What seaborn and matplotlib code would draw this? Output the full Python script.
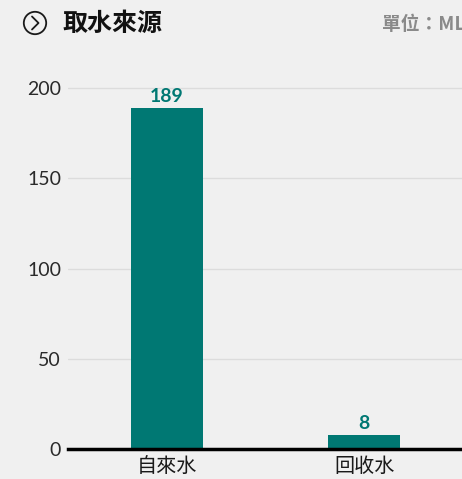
import matplotlib
matplotlib.use("Agg")
import matplotlib.pyplot as plt
from matplotlib.patches import Circle
from matplotlib.lines import Line2D
import seaborn as sns

categories = ["自來水", "回收水"]
values = [189, 8]
y_ticks = [0, 50, 100, 150, 200]

BG = "#F0F0F0"
TEAL = "#007873"
CJK = ["Noto Sans CJK TC", "DejaVu Sans"]
NUM = ["Lato", "DejaVu Sans"]

sns.set_style("white")
plt.rcParams["font.family"] = CJK

fig = plt.figure(figsize=(4.62, 4.79), dpi=100, facecolor=BG)
ax = fig.add_axes([68 / 462, 30 / 479, 1 - 68 / 462, (449 - 70.1) / 479])
ax.set_facecolor(BG)

sns.barplot(x=categories, y=values, color=TEAL, saturation=1, width=0.365,
            linewidth=0, edgecolor="none", ax=ax, zorder=3)

ax.set_xlim(-0.503, 1.497)
ax.set_ylim(0, 210)
ax.set_yticks(y_ticks)
ax.set_yticklabels([str(v) for v in y_ticks], family=NUM, fontweight="normal",
                   fontsize=14, color="#2a2a2a")
ax.set_xticks(range(len(categories)))
ax.set_xticklabels(categories, family=CJK, fontsize=14.5, color="#1a1a1a")
ax.tick_params(axis="y", length=0, pad=5, labelcolor="#2a2a2a")
ax.tick_params(axis="x", length=0, pad=5)
ax.set_xlabel("")
ax.set_ylabel("")

for v in y_ticks[1:]:
    ax.axhline(v, color="#DCDCDC", linewidth=1, zorder=1)

for s in ["top", "right", "left"]:
    ax.spines[s].set_visible(False)
ax.spines["bottom"].set_color("black")
ax.spines["bottom"].set_linewidth(2.5)
ax.spines["bottom"].set_zorder(4)

for container in ax.containers:
    ax.bar_label(container, labels=[str(v) for v in values], padding=2,
                 family=NUM, fontweight="bold", fontsize=14, color=TEAL)

# header: icon, title and unit (the unit runs off the right edge)
fig.add_artist(Circle((0.35, 4.56), 0.112, transform=fig.dpi_scale_trans,
                      fill=False, edgecolor="#1a1a1a", linewidth=1.3))
fig.add_artist(Line2D([0.32, 0.385, 0.32], [4.625, 4.56, 4.495],
                      transform=fig.dpi_scale_trans, color="#1a1a1a", linewidth=1.3))
fig.text(62 / 462, 1 - 24 / 479, "取水來源", family=CJK, fontsize=18,
         fontweight="bold", color="#111111", va="center", ha="left")
fig.text(382 / 462, 1 - 24 / 479, "單位：ML", family=CJK, fontsize=13.5,
         fontweight="bold", color="#8a8a8a", va="center", ha="left")

fig.savefig("out.png", dpi=100, facecolor=BG)
